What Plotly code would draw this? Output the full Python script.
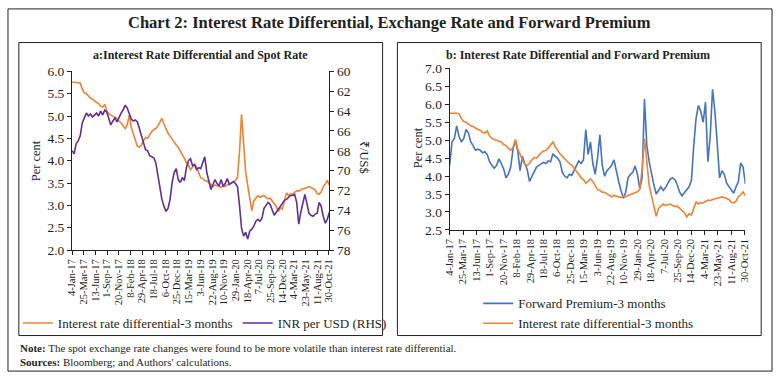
import plotly.graph_objects as go
import pandas as pd

# ---------------- data ----------------
start_date = "2017-01-04"          # fortnightly observations
n_obs = 127

ird_3m = [
    5.75, 5.76, 5.75, 5.75, 5.74, 5.60, 5.52, 5.50, 5.45, 5.40,
    5.38, 5.33, 5.30, 5.28, 5.22, 5.20, 5.26, 5.12, 5.05, 5.02,
    5.00, 4.98, 4.95, 4.88, 4.85, 4.78, 4.72, 4.80, 5.02, 4.75,
    4.60, 4.45, 4.32, 4.30, 4.35, 4.45, 4.52, 4.50, 4.58, 4.65,
    4.70, 4.72, 4.78, 4.85, 4.95, 4.82, 4.70, 4.62, 4.55, 4.48,
    4.40, 4.35, 4.30, 4.22, 4.15, 4.05, 3.95, 3.90, 3.80, 3.85,
    3.92, 3.85, 3.72, 3.62, 3.60, 3.55, 3.55, 3.50, 3.45, 3.42,
    3.46, 3.44, 3.42, 3.40, 3.44, 3.42, 3.46, 3.48, 3.50, 3.52,
    3.56, 3.62, 4.20, 5.04, 4.40, 3.75, 3.45, 3.20, 2.88, 3.10,
    3.15, 3.22, 3.18, 3.20, 3.22, 3.18, 3.15, 3.16, 3.10, 3.05,
    2.98, 2.86, 2.95, 2.92, 3.08, 3.28, 3.22, 3.26, 3.25, 3.30,
    3.33, 3.32, 3.35, 3.37, 3.38, 3.40, 3.42, 3.40, 3.38, 3.35,
    3.27, 3.25, 3.30, 3.42, 3.48, 3.56, 3.45,
]

fwd_premium_3m = [
    4.30, 4.95, 5.05, 5.40, 5.10, 4.95, 5.05, 5.30, 5.20, 4.95,
    4.85, 4.72, 4.75, 4.72, 4.65, 4.68, 4.60, 4.40, 4.30, 4.22,
    4.30, 4.48, 4.35, 4.20, 3.95, 4.05, 4.25, 4.75, 5.00, 4.70,
    4.15, 4.55, 4.35, 4.20, 3.85, 4.00, 4.12, 4.25, 4.30, 4.35,
    4.38, 4.35, 4.42, 4.40, 4.62, 4.55, 4.50, 4.40, 4.10, 4.00,
    3.95, 4.05, 4.02, 4.15, 4.30, 4.42, 4.35, 4.45, 5.30, 4.60,
    4.95, 4.35, 4.05, 4.50, 5.15, 4.30, 4.00, 4.15, 4.22, 4.30,
    4.45, 4.10, 3.85, 3.60, 3.38, 3.55, 3.95, 4.05, 4.10, 4.28,
    4.05, 3.65, 3.95, 6.15, 4.85, 4.40, 4.05, 3.75, 3.50, 3.62,
    3.70, 3.60, 3.68, 3.80, 3.92, 3.95, 3.90, 3.75, 3.55, 3.45,
    3.55, 3.62, 3.70, 3.88, 4.86, 5.62, 5.97, 5.80, 5.50, 6.06,
    4.40, 5.10, 6.42, 5.80, 4.90, 3.95, 4.15, 4.05, 3.80, 3.70,
    3.60, 3.52, 3.70, 3.85, 4.37, 4.25, 3.78,
]

inr_per_usd = [
    68.0, 68.3, 67.3, 67.0, 66.5, 65.2, 64.7, 64.2, 64.5, 64.3,
    64.6, 64.4, 64.2, 64.5, 64.0, 64.4, 63.9, 64.1, 64.8, 65.4,
    65.0, 64.7, 65.1, 64.6, 64.2, 63.9, 63.4, 63.7, 64.2, 64.8,
    65.0, 64.9, 65.1, 65.8, 66.6, 67.4, 67.9, 68.0, 68.5, 68.6,
    68.7, 69.2, 70.5, 72.0, 72.9, 73.6, 74.1, 73.8, 72.9, 71.2,
    70.2, 69.8, 70.9, 71.2, 70.7, 71.0, 69.7, 69.0, 68.8, 69.5,
    69.4, 69.9, 69.7, 69.8, 69.1, 68.6, 70.2, 71.0, 71.9, 71.4,
    70.9, 71.3, 71.5, 70.9, 71.6, 71.3, 70.8, 71.4, 71.2, 71.1,
    71.3, 71.6, 73.5, 75.8, 76.6, 76.2, 76.9, 76.1, 75.9, 75.6,
    75.1, 74.9, 75.1, 74.8, 73.8, 73.5, 73.2, 73.4, 73.9, 74.5,
    74.2, 73.9, 73.6, 73.3, 73.0, 72.9, 72.7, 72.5, 72.5, 72.4,
    73.2, 75.4, 74.2, 73.2, 72.4, 73.3, 74.3, 74.5, 74.6, 74.4,
    74.3, 73.2, 73.6, 74.6, 75.3, 74.9, 74.2,
]

tick_dates = [
    "2017-01-04", "2017-03-25", "2017-06-13", "2017-09-01", "2017-11-20",
    "2018-02-08", "2018-04-29", "2018-07-18", "2018-10-06", "2018-12-25",
    "2019-03-15", "2019-06-03", "2019-08-22", "2019-11-10", "2020-01-29",
    "2020-04-18", "2020-07-07", "2020-09-25", "2020-12-14", "2021-03-04",
    "2021-05-23", "2021-08-11", "2021-10-30",
]
tick_labels = [
    "4-Jan-17", "25-Mar-17", "13-Jun-17", "1-Sep-17", "20-Nov-17",
    "8-Feb-18", "29-Apr-18", "18-Jul-18", "6-Oct-18", "25-Dec-18",
    "15-Mar-19", "3-Jun-19", "22-Aug-19", "10-Nov-19", "29-Jan-20",
    "18-Apr-20", "7-Jul-20", "25-Sep-20", "14-Dec-20", "4-Mar-21",
    "23-May-21", "11-Aug-21", "30-Oct-21",
]

dates = pd.date_range(start_date, periods=n_obs, freq="14D")

# ---------------- styling ----------------
W, H = 779, 381
SERIF = "Liberation Serif"
TXT = "#231F20"
ORANGE = "#F08232"
PURPLE = "#5E2F98"
BLUE = "#4472C4"


def fx(p):
    return p / W


def fy(p):
    return 1 - p / H


fig = go.Figure()
fig.add_trace(go.Scatter(x=dates, y=ird_3m, mode="lines",
                         name="Interest rate differential-3 months",
                         line=dict(color=ORANGE, width=1.6),
                         xaxis="x", yaxis="y", legend="legend"))
fig.add_trace(go.Scatter(x=dates, y=inr_per_usd, mode="lines",
                         name="INR per USD (RHS)",
                         line=dict(color=PURPLE, width=1.6),
                         xaxis="x", yaxis="y2", legend="legend"))
fig.add_trace(go.Scatter(x=dates, y=fwd_premium_3m, mode="lines",
                         name="Forward Premium-3 months",
                         line=dict(color=BLUE, width=1.6),
                         xaxis="x2", yaxis="y3", legend="legend2"))
fig.add_trace(go.Scatter(x=dates, y=ird_3m, mode="lines",
                         name="Interest rate differential-3 months",
                         line=dict(color=ORANGE, width=1.6),
                         xaxis="x2", yaxis="y3", legend="legend2"))

axis_base = dict(showline=True, linecolor="#222", linewidth=1,
                 ticks="outside", ticklen=4, tickcolor="#222",
                 showgrid=False, zeroline=False,
                 tickfont=dict(family=SERIF, size=13.5, color=TXT))

xfmt = dict(axis_base, type="date", range=["2017-01-04", "2021-11-03"],
            tickmode="array", tickvals=tick_dates, ticktext=tick_labels,
            tickangle=-90, tickfont=dict(family=SERIF, size=10.5, color=TXT))

fig.update_layout(
    width=W, height=H,
    margin=dict(l=0, r=0, t=0, b=0),
    paper_bgcolor="white", plot_bgcolor="white",
    xaxis=dict(xfmt, domain=[fx(67), fx(328)], anchor="y"),
    yaxis=dict(axis_base, domain=[fy(253), fy(67)], range=[2.0, 6.0],
               dtick=0.5, tickformat=".1f", anchor="x"),
    yaxis2=dict(axis_base, overlaying="y", side="right", anchor="x",
                range=[78, 60], dtick=2),
    xaxis2=dict(xfmt, domain=[fx(450), fx(750)], anchor="y3"),
    yaxis3=dict(axis_base, domain=[fy(232), fy(64)], range=[2.5, 7.0],
                dtick=0.5, tickformat=".1f", anchor="x2"),
    legend=dict(orientation="h", x=fx(12), y=fy(329), xanchor="left",
                yanchor="middle", font=dict(family=SERIF, size=13, color=TXT),
                bgcolor="rgba(0,0,0,0)", itemwidth=30),
    legend2=dict(orientation="v", x=fx(479), y=fy(319), xanchor="left",
                 yanchor="middle", font=dict(family=SERIF, size=13, color=TXT),
                 bgcolor="rgba(0,0,0,0)", itemwidth=30, tracegroupgap=0),
    showlegend=True,
    hovermode=False,
)

# frames
frame = dict(type="rect", xref="paper", yref="paper", fillcolor="rgba(0,0,0,0)")
fig.add_shape(frame, x0=fx(2), x1=fx(777), y0=fy(379), y1=fy(2),
              line=dict(color="#222", width=1))
fig.add_shape(frame, x0=fx(13), x1=fx(382), y0=fy(342), y1=fy(37),
              line=dict(color="#222", width=1))
fig.add_shape(frame, x0=fx(397), x1=fx(766), y0=fy(342), y1=fy(37),
              line=dict(color="#222", width=1))

ann = dict(xref="paper", yref="paper", showarrow=False)
fig.add_annotation(ann, x=fx(389), y=fy(16), xanchor="center", yanchor="middle",
                   text="<b>Chart 2: Interest Rate Differential, Exchange Rate and Forward Premium</b>",
                   font=dict(family=SERIF, size=16.5, color=TXT))
fig.add_annotation(ann, x=fx(197), y=fy(50), xanchor="center", yanchor="middle",
                   text="<b>a:Interest Rate Differential and Spot Rate</b>",
                   font=dict(family=SERIF, size=12, color=TXT))
fig.add_annotation(ann, x=fx(580), y=fy(50), xanchor="center", yanchor="middle",
                   text="<b>b: Interest Rate Differential and Forward Premium</b>",
                   font=dict(family=SERIF, size=12, color=TXT))
fig.add_annotation(ann, x=fx(30), y=fy(160), xanchor="center", yanchor="middle",
                   text="Per cent", textangle=-90,
                   font=dict(family=SERIF, size=12.5, color=TXT))
fig.add_annotation(ann, x=fx(363), y=fy(157), xanchor="center", yanchor="middle",
                   text="₹/US$", textangle=90,
                   font=dict(family=SERIF, size=12.5, color=TXT))
fig.add_annotation(ann, x=fx(418), y=fy(147), xanchor="center", yanchor="middle",
                   text="Per cent", textangle=-90,
                   font=dict(family=SERIF, size=12.5, color=TXT))
fig.add_annotation(ann, x=fx(12), y=fy(355), xanchor="left", yanchor="middle",
                   text="<b>Note:</b> The spot exchange rate changes were found to be more volatile than interest rate differential.",
                   font=dict(family=SERIF, size=11, color=TXT))
fig.add_annotation(ann, x=fx(12), y=fy(370), xanchor="left", yanchor="middle",
                   text="<b>Sources:</b> Bloomberg; and Authors' calculations.",
                   font=dict(family=SERIF, size=11, color=TXT))

fig.write_html("out.html", config={"displayModeBar": False},
               post_script="document.body.style.margin='0';document.body.style.overflow='hidden';")
